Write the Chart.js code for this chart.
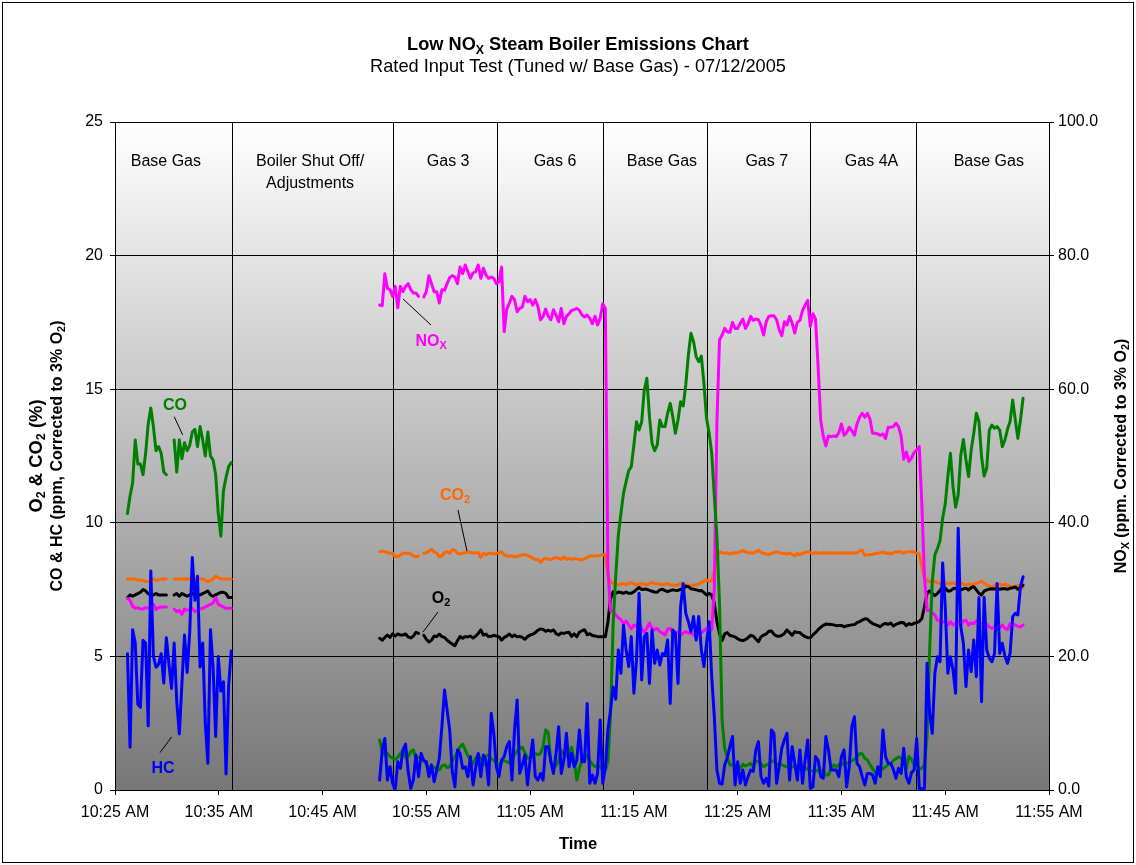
<!DOCTYPE html>
<html>
<head>
<meta charset="utf-8">
<title>Low NOx Steam Boiler Emissions Chart</title>
<script src="https://cdn.jsdelivr.net/npm/chart.js@4/dist/chart.umd.min.js"></script>
<style>
  html, body { margin: 0; padding: 0; background: #ffffff; }
  #c { display: block; }
</style>
</head>
<body>
<canvas id="c" width="1136" height="865"></canvas>
<script>
// ---------------------------------------------------------------------------
// Analyser log, 07/12/2005 rated input test.
// Times are minutes after midnight; readings every 15 s (0.25 min).
// O2 / CO2 in %, CO / HC in ppm (left axis), NOx in ppm @ 3% O2 (right axis).
// ---------------------------------------------------------------------------
const SAMPLE_STEP = 0.25;
const RUN1_START = 626.2;   // first base-gas run
const RUN2_START = 650.5;   // after boiler restart

const O2_RUN1 = [7.2, 7.3, 7.25, 7.3, 7.35, 7.4, 7.5, 7.45, 7.35, 7.3, 7.3, 7.35, 7.3, 7.3, 7.3, 7.3, null, null, 7.3, 7.35, 7.25, 7.35, 7.3, 7.25, 7.3, 7.35, 7.3, 7.3, 7.3, 7.35, 7.4, 7.45, 7.3, 7.25, 7.3, 7.35, 7.4, 7.4, 7.35, 7.2, 7.2];
const CO2_RUN1 = [7.9, 7.9, 7.9, 7.9, 7.85, 7.85, 7.85, 7.8, 7.8, 7.85, 7.9, 7.85, 7.85, 7.9, 7.9, 7.9, null, null, 7.9, 7.9, 7.9, 7.9, 7.9, 7.9, 7.9, 7.9, 7.9, 7.95, 7.9, 7.9, 7.85, 7.8, 7.85, 7.9, 8.0, 7.95, 7.9, 7.9, 7.9, 7.9, 7.9];
const CO_RUN1 = [10.35, 11.0, 11.5, 13.1, 12.2, 12.2, 11.8, 12.6, 13.7, 14.3, 13.6, 12.7, 12.85, 12.6, 11.9, 11.8, null, null, 13.1, 11.9, 13.1, 12.4, 13.0, 12.7, 12.9, 13.4, 13.5, 12.85, 13.6, 13.1, 12.5, 13.4, 12.5, 12.35, 11.8, 10.35, 9.5, 11.2, 11.7, 12.1, 12.25];
const HC_RUN1 = [5.1, 1.6, 6.0, 5.5, 3.2, 3.1, 5.6, 5.5, 2.4, 8.2, 5.0, 4.6, 4.7, 5.1, 4.0, 5.7, 4.7, 3.8, 5.5, 3.3, 2.1, 4.0, 5.8, 4.4, 5.9, 8.7, 7.1, 8.0, 4.6, 5.5, 2.5, 1.0, 6.0, 4.6, 2.0, 5.0, 3.7, 4.05, 0.6, 3.9, 5.2];
const NOX_RUN1 = [28.7, 28.4, 27.5, 27.2, 27.3, 27.1, 27.1, 27.3, 27.2, 27.4, 27.8, 27.0, 27.3, 27.4, 27.4, 27.4, null, null, 27.1, 26.7, 26.9, 26.3, 27.1, 26.9, 27.0, 27.2, 26.7, 26.9, 27.1, 27.2, 27.4, 27.6, 27.8, 28.0, 28.8, 27.8, 27.6, 27.4, 27.2, 27.2, 27.2];

const O2_RUN2 = [
  5.68, 5.61, 5.71, 5.8, 5.71, 5.84, 5.76, 5.84, 5.8, 5.8,
  5.84, 5.73, 5.69, 5.76, 5.9, 5.86, null, 5.79, 5.64, 5.54,
  5.61, 5.76, 5.74, 5.83, 5.74, 5.71, 5.61, 5.53, 5.46, 5.4,
  5.59, 5.74, 5.68, 5.74, 5.73, 5.76, 5.69, 5.76, 5.86, 5.99,
  5.8, 5.83, 5.74, 5.75, 5.79, 5.76, 5.74, 5.61, 5.71, 5.76,
  5.84, 5.74, 5.8, 5.73, 5.75, 5.71, 5.64, 5.74, 5.8, 5.83,
  5.89, 5.98, 6.03, 6.01, 5.94, 5.98, 5.94, 5.99, 5.85, 5.8,
  5.88, 5.86, 5.89, 5.9, 5.75, 5.84, 5.74, 5.91, 5.96, 6.0,
  5.81, 5.85, 5.78, 5.76, 5.74, 5.74, 5.74, 5.74, 6.3, 7.15,
  7.42, 7.36, 7.41, 7.39, 7.36, 7.41, 7.36, 7.36, 7.42, 7.5,
  7.58, 7.5, 7.51, 7.51, 7.47, 7.44, 7.41, 7.4, 7.49, 7.51,
  7.46, 7.42, 7.46, 7.49, 7.47, 7.47, 7.51, 7.51, 7.63, 7.61,
  7.53, 7.51, 7.49, 7.46, 7.47, 7.39, 7.3, 7.35, 7.3, 7.0,
  6.3, 5.85, 5.6, 5.84, 5.89, 5.78, 5.76, 5.73, 5.66, 5.61,
  5.59, 5.63, 5.7, 5.79, 5.76, 5.65, 5.55, 5.73, 5.8, 5.84,
  5.94, 5.95, 5.83, 5.76, 5.75, 5.79, 5.86, 5.99, 5.89, 5.79,
  5.93, 5.89, 5.89, 5.8, 5.74, 5.7, 5.7, 5.81, 5.89, 6.0,
  6.09, 6.16, 6.21, 6.2, 6.19, 6.18, 6.15, 6.16, 6.16, 6.11,
  6.14, 6.16, 6.18, 6.19, 6.26, 6.3, 6.36, 6.41, 6.39, 6.3,
  6.23, 6.19, 6.15, 6.11, 6.2, 6.23, 6.2, 6.25, 6.14, 6.2,
  6.24, 6.27, 6.26, 6.15, 6.23, 6.19, 6.24, 6.26, 6.31, 6.42,
  6.86, 7.36, 7.45, 7.36, 7.27, 7.36, 7.46, 7.61, 7.56, 7.45,
  7.45, 7.53, 7.55, 7.57, 7.49, 7.53, 7.55, 7.49, 7.57, 7.61,
  7.49, 7.36, 7.3, 7.44, 7.49, 7.52, 7.53, 7.52, 7.55, 7.51,
  7.53, 7.53, 7.51, 7.55, 7.57, 7.6, 7.51, 7.57, 7.67
];

const CO2_RUN2 = [
  8.92, 8.94, 8.92, 8.88, 8.86, 8.86, 8.73, 8.73, 8.8, 8.86,
  8.86, 8.86, 8.83, 8.76, 8.73, 8.76, null, 8.86, 8.88, 8.93,
  9.02, 8.91, 8.86, 8.73, 8.76, 8.88, 8.92, 8.86, 8.99, 8.97,
  8.86, 8.83, 8.86, 8.88, 8.91, 8.9, 8.87, 8.88, 8.88, 8.7,
  8.86, 8.8, 8.86, 8.86, 8.83, 8.86, 8.88, 8.92, 8.8, 8.76,
  8.76, 8.76, 8.73, 8.74, 8.77, 8.8, 8.8, 8.77, 8.73, 8.67,
  8.63, 8.63, 8.52, 8.63, 8.67, 8.63, 8.63, 8.67, 8.71, 8.67,
  8.63, 8.73, 8.63, 8.67, 8.63, 8.66, 8.65, 8.63, 8.61, 8.65,
  8.71, 8.76, 8.76, 8.76, 8.76, 8.78, 8.81, 8.8, 8.0, 7.8,
  7.73, 7.7, 7.68, 7.71, 7.73, 7.68, 7.73, 7.76, 7.71, 7.67,
  7.71, 7.72, 7.71, 7.67, 7.73, 7.76, 7.73, 7.71, 7.71, 7.68,
  7.7, 7.73, 7.67, 7.67, 7.66, 7.66, 7.73, 7.71, 7.68, 7.66,
  7.63, 7.67, 7.67, 7.71, 7.76, 7.82, 7.86, 7.8, 7.85, 8.2,
  8.75, 8.91, 8.88, 8.86, 8.88, 8.83, 8.88, 8.87, 8.88, 8.92,
  8.96, 8.91, 8.88, 8.88, 8.86, 8.91, 8.98, 8.88, 8.86, 8.83,
  8.81, 8.86, 8.88, 8.92, 8.88, 8.86, 8.85, 8.83, 8.86, 8.82,
  8.76, 8.86, 8.8, 8.86, 8.88, 8.92, 8.88, 8.86, 8.88, 8.87,
  8.86, 8.88, 8.86, 8.87, 8.88, 8.86, 8.88, 8.86, 8.87, 8.88,
  8.86, 8.88, 8.87, 8.86, 8.88, 8.95, 8.98, 8.78, 8.8, 8.8,
  8.82, 8.85, 8.86, 8.88, 8.91, 8.86, 8.87, 8.83, 8.88, 8.91,
  8.92, 8.91, 8.86, 8.91, 8.92, 8.92, 8.91, 8.86, 8.83, 8.38,
  7.92, 7.82, 7.8, 7.8, 7.8, 7.76, 7.72, 7.71, 7.73, 7.73,
  7.75, 7.75, 7.73, 7.78, 7.75, 7.7, 7.67, 7.71, 7.67, 7.71,
  7.73, 7.76, 7.82, 7.73, 7.68, 7.63, 7.61, 7.63, 7.71, 7.71,
  7.67, 7.7, 7.66, 7.61, 7.61, 7.63, 7.66, 7.63, 7.58
];

const CO_RUN2 = [
  1.87, 1.43, 1.31, 1.37, 1.25, 1.19, 1.15, 1.22, 1.37, 1.47,
  1.22, 1.25, 1.43, 1.5, 1.19, 1.22, null, 1.1, 0.96, 0.84,
  0.85, 0.86, 0.75, 0.75, 0.9, 0.94, 0.84, 0.87, 1.06, 1.25,
  1.43, 1.62, 1.72, 1.5, 1.28, 1.11, 0.96, 1.19, 1.31, 1.17,
  0.94, 1.27, 1.31, 1.17, 1.12, 1.02, 0.91, 1.06, 1.1, 1.06,
  1.02, 1.12, 1.32, 1.46, 1.56, 1.6, 1.4, 1.19, 1.19, 1.28,
  1.37, 1.32, 1.37, 1.62, 2.25, 2.15, 1.06, 0.85, 0.9, 1.1,
  1.47, 1.35, 1.27, 1.41, 1.6, 1.12, 0.37, 0.81, 1.12, 1.35,
  1.25, 1.1, 0.96, 0.87, 0.92, 0.87, 0.77, 0.75, 1.06, 2.8,
  6.2, 8.0, 9.54, 10.35, 11.1, 11.54, 11.95, 12.1, 12.91, 13.78,
  13.47, 13.78, 14.97, 15.41, 13.97, 12.97, 12.7, 12.91, 13.85, 13.6,
  13.6, 14.1, 14.47, 13.97, 13.35, 13.85, 14.53, 14.37, 15.16, 16.28,
  17.09, 16.78, 16.22, 16.03, 16.24, 15.22, 13.91, 13.35, 12.6, 11.0,
  9.5, 7.0, 2.6, 1.56, 1.22, 0.94, 0.94, 0.94, 0.85, 0.81,
  0.96, 0.9, 0.94, 1.0, 0.87, 1.09, 1.06, 0.97, 0.87, 0.94,
  0.97, 1.06, 1.1, 0.94, 1.0, 0.94, 0.9, 0.87, 0.82, 0.85,
  0.9, 0.92, 0.87, 0.91, 0.84, 0.77, 0.75, 0.71, 0.75, 0.71,
  0.71, 0.75, 0.56, 0.56, 0.81, 0.94, 0.87, 0.94, 1.0, 0.95,
  1.0, 1.04, 1.09, 1.15, 1.25, 1.36, 1.36, 1.19, 1.12, 0.95,
  0.8, 0.65, 0.62, 0.75, 0.8, 0.87, 0.95, 1.0, 1.1, 1.17,
  1.24, 1.19, 1.0, 0.81, 1.25, 1.15, 0.94, 0.8, 0.77, 0.81,
  0.94, 2.0, 5.24, 7.8, 8.8, 9.04, 9.33, 10.17, 10.7, 11.73,
  12.6, 11.35, 10.58, 11.04, 12.54, 13.12, 12.35, 11.73, 12.72, 13.35,
  14.1, 13.79, 12.48, 11.75, 12.04, 13.47, 13.66, 13.54, 13.6, 13.47,
  12.85, 13.1, 13.5, 13.79, 14.6, 13.85, 13.16, 13.85, 14.66
];

const HC_RUN2 = [
  0.37, 1.5, 1.93, 0.37, 0.87, 0.25, 0.0, 1.06, 0.81, 1.5,
  1.72, 0.69, 0.06, 0.37, 1.31, 0.5, 1.37, 1.1, 1.06, 0.5,
  0.94, 0.31, 0.75, 1.19, 2.37, 3.74, 2.99, 2.25, 0.69, 0.12,
  1.5, 1.37, 0.81, 0.87, 0.5, 1.25, 0.19, 0.81, 1.37, 0.5,
  1.31, 1.12, 0.19, 2.87, 2.12, 0.87, 0.5, 1.12, 1.25, 1.62,
  1.81, 0.37, 2.25, 3.37, 0.62, 0.94, 1.31, 0.19, 1.12, 1.87,
  0.5, 0.37, 0.62, 0.37, 1.62, 1.62, 1.06, 0.62, 1.37, 2.37,
  0.62, 1.12, 2.12, 0.87, 1.37, 0.87, 1.12, 2.25, 1.06, 1.06,
  3.24, 0.25, 0.56, 0.25, 0.62, 2.62, 0.25, 0.81, 2.25, 3.0,
  3.85, 3.4, 5.24, 4.37, 6.17, 5.24, 4.62, 5.74, 3.62, 4.87,
  7.36, 4.12, 5.74, 5.86, 3.99, 5.99, 4.74, 5.24, 4.68, 5.11,
  5.05, 5.61, 3.24, 5.99, 5.86, 3.99, 6.86, 7.73, 6.61, 6.3,
  5.93, 6.49, 5.61, 6.49, 5.24, 4.62, 5.5, 6.3, 4.24, 2.74,
  0.75, 0.25, 0.22, 0.94, 1.21, 1.62, 2.0, 0.19, 1.06, 0.25,
  0.75, 0.19, 0.5, 0.75, 0.69, 1.5, 1.81, 0.5, 0.25, 0.44,
  0.15, 2.25, 2.12, 0.25, 0.87, 1.56, 1.87, 2.12, 0.37, 1.62,
  1.0, 0.37, 1.5, 0.25, 1.12, 1.87, 0.06, 0.12, 1.25, 1.12,
  0.5, 0.44, 2.0, 1.5, 0.75, 0.75, 0.75, 0.5, 1.25, 1.5,
  0.12, 0.87, 2.37, 2.74, 1.0, 0.87, 0.5, 0.19, 0.62, 0.62,
  0.56, 0.25, 0.87, 0.5, 2.25, 1.25, 1.0, 1.0, 0.77, 0.44,
  0.81, 0.62, 1.56, 0.5, 0.25, 0.65, 0.75, 1.93, 0.06, 0.06,
  0.06, 4.74, 2.87, 2.12, 4.37, 4.99, 4.8, 8.5, 6.86, 4.37,
  4.99, 4.49, 3.62, 9.8, 6.11, 5.49, 3.87, 5.24, 4.43, 5.61,
  4.24, 7.2, 3.3, 7.2, 5.24, 4.93, 4.8, 5.11, 7.73, 5.11,
  5.49, 5.01, 4.74, 5.11, 6.49, 6.61, 6.55, 7.61, 7.98
];

const NOX_RUN2 = [
  72.6, 72.5, 77.3, 75.1, 74.9, 73.9, 75.4, 72.2, 75.4, 74.6,
  75.4, 75.8, 74.9, 74.4, 74.4, 73.9, null, 73.8, 74.6, 77.0,
  75.8, 74.6, 74.6, 72.9, 74.9, 74.8, 75.8, 76.7, 77.0, 76.8,
  75.8, 78.3, 77.3, 78.6, 77.6, 76.6, 77.4, 77.6, 78.6, 76.6,
  78.1, 77.1, 76.6, 76.8, 76.6, 75.8, 76.1, 78.3, 68.6, 72.0,
  72.9, 73.9, 73.4, 71.6, 72.1, 72.3, 73.9, 73.1, 73.4, 72.6,
  73.4, 72.4, 70.4, 70.9, 72.0, 70.9, 70.4, 71.9, 71.1, 70.1,
  72.1, 69.8, 70.9, 71.3, 71.8, 71.9, 72.1, 71.8, 71.1, 70.8,
  71.1, 70.6, 69.8, 70.9, 69.6, 70.6, 72.8, 72.1, 33.0, 26.9,
  26.7, 26.2, 25.8, 25.5, 24.9, 25.3, 24.7, 24.1, 24.7, 24.5,
  25.2, 24.1, 23.6, 24.2, 25.0, 24.2, 24.0, 24.2, 23.7, 23.5,
  23.2, 24.1, 24.2, 23.6, 23.5, 23.7, 23.2, 23.5, 23.7, 23.5,
  23.5, 23.2, 23.0, 23.2, 23.5, 23.9, 24.2, 24.4, 24.0, 30.0,
  55.0, 67.4, 68.1, 69.1, 68.6, 68.5, 70.0, 69.1, 69.1, 69.9,
  70.5, 69.1, 69.8, 70.9, 70.3, 70.5, 70.4, 69.5, 68.1, 70.1,
  70.9, 71.0, 71.0, 70.4, 68.9, 68.0, 70.1, 69.6, 70.9, 69.9,
  68.4, 70.0, 70.3, 71.8, 72.6, 73.3, 69.4, 71.3, 70.5, 63.4,
  55.4, 52.9, 51.5, 53.0, 52.9, 53.0, 52.9, 53.5, 54.8, 53.1,
  53.5, 54.3, 53.8, 53.1, 54.8, 55.8, 56.4, 55.8, 56.4, 55.5,
  53.4, 53.4, 53.3, 53.1, 53.3, 52.6, 54.3, 54.3, 54.4, 54.9,
  54.4, 53.0, 49.5, 50.6, 49.2, 49.7, 50.5, 50.9, 51.4, 42.7,
  31.9, 26.9, 26.9, 26.5, 26.2, 25.4, 25.3, 25.2, 25.2, 24.7,
  25.2, 24.7, 24.9, 25.2, 24.7, 25.3, 25.4, 24.7, 25.0, 24.9,
  25.3, 25.2, 24.8, 24.9, 24.8, 24.4, 24.2, 24.4, 24.0, 24.3,
  24.7, 24.2, 24.0, 24.9, 24.9, 24.7, 24.5, 24.4, 24.7
];

// Test phases: boundaries (min after midnight), names, label centres
const PHASE_BREAKS = [636.3, 651.8, 661.8, 672.0, 682.0, 692.0, 702.2];
const PHASE_NAMES = [['Base Gas'], ['Boiler Shut Off/', 'Adjustments'], ['Gas 3'], ['Gas 6'],
                     ['Base Gas'], ['Gas 7'], ['Gas 4A'], ['Base Gas']];
const PHASE_LABEL_AT = [629.9, 643.8, 657.1, 667.4, 677.7, 687.8, 697.9, 709.2];

// Axis ranges
const TIME_MIN = 625, TIME_MAX = 715, TIME_STEP = 10;
const LEFT_MAX = 25, LEFT_STEP = 5;
const RIGHT_MAX = 100, RIGHT_STEP = 20;

// Colours
const C_O2 = '#000000', C_CO2 = '#ff6600', C_CO = '#008000', C_HC = '#0000ff', C_NOX = '#ff00ff';
const FONT = '"Liberation Sans", Arial, Helvetica, sans-serif';

// In-plot series captions with leader lines (time, left-axis value)
const SERIES_NOTES = [
  { parts: [['CO', 0]], color: C_CO, at: [630.78, 14.46], from: [630.71, 13.97], to: [631.52, 13.29] },
  { parts: [['HC', 0]], color: C_HC, at: [629.63, 0.86], from: [629.34, 1.40], to: [630.46, 1.99] },
  { parts: [['NO', 0], ['X', 1]], color: C_NOX, at: [655.45, 16.84], from: [652.75, 18.38], to: [655.45, 17.40] },
  { parts: [['CO', 0], ['2', 1]], color: C_CO2, at: [657.76, 11.08], from: [658.05, 10.48], to: [658.92, 8.94] },
  { parts: [['O', 0], ['2', 1]], color: C_O2, at: [656.41, 7.22], from: [656.12, 6.66], to: [654.68, 5.91] }
];

// ---------------------------------------------------------------------------
function toPoints(run1, run2) {
  const pts = run1.map((v, i) => ({ x: RUN1_START + i * SAMPLE_STEP, y: v }));
  pts.push({ x: (RUN1_START + run1.length * SAMPLE_STEP + RUN2_START) / 2, y: null });
  run2.forEach((v, i) => pts.push({ x: RUN2_START + i * SAMPLE_STEP, y: v }));
  return pts;
}

function clockLabel(m) {
  const h = Math.floor(m / 60);
  const mm = Math.round(m - h * 60);
  const ap = h >= 12 ? 'PM' : 'AM';
  let h12 = h % 12; if (h12 === 0) h12 = 12;
  return h12 + ':' + String(mm).padStart(2, '0') + ' ' + ap;
}

function setFont(ctx, size, bold, sub) {
  ctx.font = (bold ? 'bold ' : '') + (sub ? size * 0.68 : size).toFixed(2) + 'px ' + FONT;
}
function richWidth(ctx, parts, size, bold) {
  let w = 0;
  for (const [t, sub] of parts) { setFont(ctx, size, bold, sub); w += ctx.measureText(t).width; }
  return w;
}
// draws text runs (with optional subscripts), centred on x, baseline y
function drawRich(ctx, parts, x, y, size, bold, color) {
  const w = richWidth(ctx, parts, size, bold);
  let cx = x - w / 2;
  ctx.fillStyle = color;
  ctx.textAlign = 'left';
  ctx.textBaseline = 'alphabetic';
  for (const [t, sub] of parts) {
    setFont(ctx, size, bold, sub);
    ctx.fillText(t, cx, sub ? y + size * 0.2 : y);
    cx += ctx.measureText(t).width;
  }
}
function drawRichVertical(ctx, parts, bx, cy, size, bold, color) {
  ctx.save();
  ctx.translate(bx, cy);
  ctx.rotate(-Math.PI / 2);
  drawRich(ctx, parts, 0, 0, size, bold, color);
  ctx.restore();
}

const decor = {
  id: 'decor',
  beforeDraw(chart) {
    const { ctx, chartArea: a } = chart;
    const g = ctx.createLinearGradient(0, a.top, 0, a.bottom);
    g.addColorStop(0, '#ffffff');
    g.addColorStop(1, '#777777');
    ctx.save();
    ctx.fillStyle = g;
    ctx.fillRect(a.left, a.top, a.right - a.left, a.bottom - a.top);
    ctx.restore();
  },
  beforeDatasetsDraw(chart) {
    const { ctx, chartArea: a, scales } = chart;
    ctx.save();
    ctx.strokeStyle = '#000';
    ctx.lineWidth = 1;
    PHASE_BREAKS.forEach(t => {
      const x = Math.round(scales.x.getPixelForValue(t)) + 0.5;
      ctx.beginPath(); ctx.moveTo(x, a.top); ctx.lineTo(x, a.bottom); ctx.stroke();
    });
    ctx.restore();
  },
  afterDatasetsDraw(chart) {
    const { ctx, chartArea: a, scales } = chart;
    ctx.save();
    // plot frame
    ctx.strokeStyle = '#000'; ctx.lineWidth = 1;
    ctx.strokeRect(Math.round(a.left) + 0.5, Math.round(a.top) + 0.5,
                   Math.round(a.right - a.left), Math.round(a.bottom - a.top));
    // phase captions
    PHASE_NAMES.forEach((lines, k) => {
      const x = scales.x.getPixelForValue(PHASE_LABEL_AT[k]);
      lines.forEach((ln, j) => drawRich(ctx, [[ln, 0]], x, a.top + 44 + j * 22, 16, false, '#000'));
    });
    // series captions
    SERIES_NOTES.forEach(n => {
      const px = v => scales.x.getPixelForValue(v[0]);
      const py = v => scales.y.getPixelForValue(v[1]);
      ctx.strokeStyle = '#000'; ctx.lineWidth = 1;
      ctx.beginPath(); ctx.moveTo(px(n.from), py(n.from)); ctx.lineTo(px(n.to), py(n.to)); ctx.stroke();
      drawRich(ctx, n.parts, px(n.at), py(n.at) + 6, 16, true, n.color);
    });
    ctx.restore();
  },
  afterDraw(chart) {
    const { ctx, chartArea: a } = chart;
    ctx.save();
    const cx = (a.left + a.right) / 2 - 4;
    drawRich(ctx, [['Low NO', 0], ['X', 1], [' Steam Boiler Emissions Chart', 0]], cx, 50, 18.2, true, '#000');
    drawRich(ctx, [['Rated Input Test (Tuned w/ Base Gas) - 07/12/2005', 0]], cx, 72, 18.2, false, '#000');
    drawRich(ctx, [['Time', 0]], cx, 849, 16.5, true, '#000');
    const cy = (a.top + a.bottom) / 2;
    drawRichVertical(ctx, [['O', 0], ['2', 1], [' & CO', 0], ['2', 1], [' (%)', 0]], 41.5, cy, 18.4, true, '#000');
    drawRichVertical(ctx, [['CO & HC (ppm, Corrected to 3% O', 0], ['2', 1], [')', 0]], 61.5, cy, 16, true, '#000');
    drawRichVertical(ctx, [['NO', 0], ['X', 1], [' (ppm. Corrected to 3% O', 0], ['2', 1], [')', 0]], 1126, cy, 16, true, '#000');
    // outer frame
    ctx.strokeStyle = '#000'; ctx.lineWidth = 1;
    ctx.strokeRect(2.5, 2.5, chart.width - 5, chart.height - 5);
    ctx.restore();
  }
};

const tickFont = { family: FONT, size: 16 };

new Chart(document.getElementById('c'), {
  type: 'line',
  data: {
    datasets: [
      { label: 'HC', data: toPoints(HC_RUN1, HC_RUN2), borderColor: C_HC, yAxisID: 'y' },
      { label: 'CO', data: toPoints(CO_RUN1, CO_RUN2), borderColor: C_CO, yAxisID: 'y' },
      { label: 'NOx', data: toPoints(NOX_RUN1, NOX_RUN2), borderColor: C_NOX, yAxisID: 'y2' },
      { label: 'O2', data: toPoints(O2_RUN1, O2_RUN2), borderColor: C_O2, yAxisID: 'y' },
      { label: 'CO2', data: toPoints(CO2_RUN1, CO2_RUN2), borderColor: C_CO2, yAxisID: 'y' }
    ]
  },
  options: {
    responsive: false,
    animation: false,
    devicePixelRatio: 1,
    events: [],
    layout: { padding: { top: 122, left: 0, right: 0, bottom: 0 } },
    elements: {
      line: { borderWidth: 3, tension: 0, borderJoinStyle: 'round', borderCapStyle: 'round', fill: false },
      point: { radius: 0, hoverRadius: 0, hitRadius: 0 }
    },
    plugins: { legend: { display: false }, tooltip: { enabled: false }, title: { display: false } },
    scales: {
      x: {
        type: 'linear', position: 'bottom', min: TIME_MIN, max: TIME_MAX,
        afterFit: s => { s.height = 75; },
        ticks: { stepSize: TIME_STEP, callback: clockLabel, color: '#000', font: tickFont, padding: 8, maxRotation: 0, autoSkip: false },
        grid: { drawOnChartArea: false, drawTicks: true, tickLength: 5, color: '#000' },
        border: { display: true, color: '#000', width: 1 }
      },
      y: {
        position: 'left', min: 0, max: LEFT_MAX,
        afterFit: s => { s.width = 115; },
        ticks: { stepSize: LEFT_STEP, color: '#000', font: tickFont, padding: 7 },
        grid: { color: '#000', lineWidth: 1, tickLength: 5 },
        border: { display: true, color: '#000', width: 1 }
      },
      y2: {
        position: 'right', min: 0, max: RIGHT_MAX,
        afterFit: s => { s.width = 87; },
        ticks: { stepSize: RIGHT_STEP, color: '#000', font: tickFont, padding: 4, callback: v => Number(v).toFixed(1) },
        grid: { drawOnChartArea: false, tickLength: 5, color: '#000' },
        border: { display: true, color: '#000', width: 1 }
      }
    }
  },
  plugins: [decor]
});
</script>
</body>
</html>
